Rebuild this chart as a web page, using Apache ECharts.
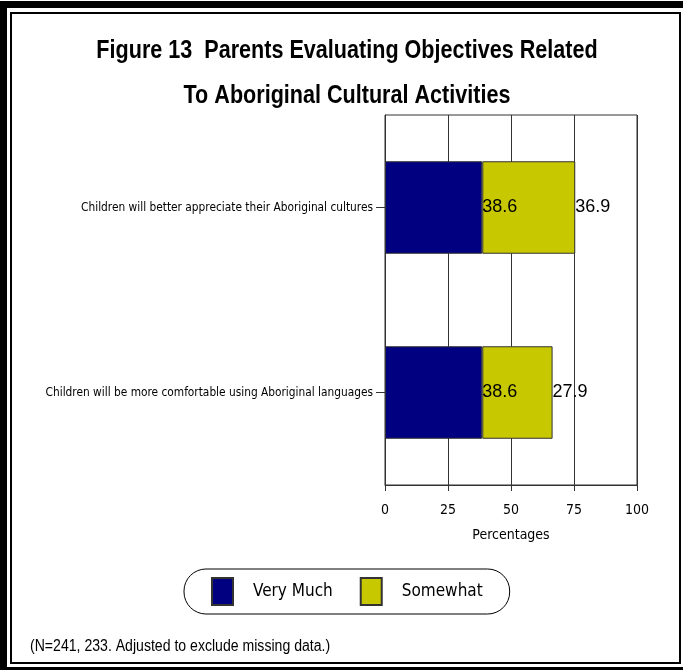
<!DOCTYPE html>
<html>
<head>
<meta charset="utf-8">
<script src="https://cdn.jsdelivr.net/npm/echarts@6/dist/echarts.min.js"></script>
<style>
  html, body { margin: 0; padding: 0; background: #fff; }
  #main { width: 683px; height: 670px; }
</style>
</head>
<body>
<div id="main"></div>
<script>
var categories = [
  'Children will better appreciate their Aboriginal cultures',
  'Children will be more comfortable using Aboriginal languages'
];
var veryMuch = [38.6, 38.6];
var somewhat = [36.9, 27.9];
var xTicks = [0, 25, 50, 75, 100];

var titleLines = ['Figure 13  Parents Evaluating Objectives Related', 'To Aboriginal Cultural Activities'];
var footnote = '(N=241, 233. Adjusted to exclude missing data.)';

var narrow = '"DejaVu Sans Condensed", sans-serif';
var arial = '"Liberation Sans", Arial, sans-serif';

var myChart = echarts.init(document.getElementById('main'));

var option = {
  backgroundColor: '#fff',
  animation: false,
  legend: {
    data: ['Very Much', 'Somewhat'],
    left: 184,
    top: 569,
    orient: 'horizontal',
    icon: 'rect',
    itemWidth: 21,
    itemHeight: 27,
    itemGap: 27,
    padding: [8, 27, 8, 27],
    borderColor: '#000',
    borderWidth: 1,
    borderRadius: 22,
    textStyle: {
      fontFamily: narrow,
      fontSize: 17,
      color: '#000',
      padding: [0, 0, 0, 15]
    }
  },
  grid: {
    left: 385,
    right: 46,
    top: 115,
    bottom: 185,
    show: true,
    borderColor: '#333',
    borderWidth: 1,
    containLabel: false
  },
  xAxis: {
    type: 'value',
    min: 0,
    max: 100,
    interval: 25,
    name: 'Percentages',
    nameLocation: 'middle',
    nameGap: 43,
    nameTextStyle: { fontFamily: narrow, fontSize: 14, color: '#000' },
    axisLine: { show: true, lineStyle: { color: '#333' } },
    axisTick: { show: true, length: 6, lineStyle: { color: '#333' } },
    axisLabel: {
      fontFamily: narrow,
      fontSize: 14,
      color: '#000',
      margin: 18,
      formatter: function (v) { return xTicks.indexOf(v) >= 0 ? String(v) : ''; }
    },
    splitLine: { show: true, lineStyle: { color: '#333', width: 1 } }
  },
  yAxis: {
    type: 'category',
    inverse: true,
    data: categories,
    axisLine: { show: true, lineStyle: { color: '#333' } },
    axisTick: { show: true, length: 9, alignWithLabel: true, lineStyle: { color: '#333' } },
    axisLabel: {
      fontFamily: narrow,
      fontSize: 11.8,
      color: '#000',
      margin: 12
    },
    splitLine: { show: false }
  },
  series: [
    {
      name: 'Very Much',
      type: 'bar',
      stack: 'total',
      barWidth: '50%',
      data: veryMuch,
      itemStyle: { color: '#000080', borderColor: '#333', borderWidth: 1 },
      label: {
        show: true,
        position: 'right',
        distance: 0,
        fontFamily: arial,
        fontSize: 18,
        color: '#000'
      }
    },
    {
      name: 'Somewhat',
      type: 'bar',
      stack: 'total',
      barWidth: '50%',
      data: somewhat,
      itemStyle: { color: '#C8C800', borderColor: '#333', borderWidth: 1 },
      label: {
        show: true,
        position: 'right',
        distance: 0,
        fontFamily: arial,
        fontSize: 18,
        color: '#000'
      }
    }
  ],
  graphic: [
    {
      // outer heavy frame
      type: 'rect',
      silent: true,
      shape: { x: 3.5, y: 4.5, width: 686, height: 666 },
      style: { fill: 'none', stroke: '#000', lineWidth: 7 }
    },
    {
      // inner thin frame
      type: 'rect',
      silent: true,
      shape: { x: 11, y: 13, width: 669, height: 650 },
      style: { fill: 'none', stroke: '#000', lineWidth: 2 }
    },
    {
      type: 'text',
      x: 347, y: 51, scaleX: 0.83,
      style: {
        text: titleLines[0], fill: '#000', align: 'center', verticalAlign: 'middle',
        font: 'bold 26px ' + arial
      }
    },
    {
      type: 'text',
      x: 347, y: 96, scaleX: 0.83,
      style: {
        text: titleLines[1], fill: '#000', align: 'center', verticalAlign: 'middle',
        font: 'bold 26px ' + arial
      }
    },
    {
      type: 'text',
      x: 30, y: 647, scaleX: 0.88,
      style: {
        text: footnote, fill: '#000', align: 'left', verticalAlign: 'middle',
        font: '16px ' + arial
      }
    }
  ]
};

myChart.setOption(option);
</script>
</body>
</html>
